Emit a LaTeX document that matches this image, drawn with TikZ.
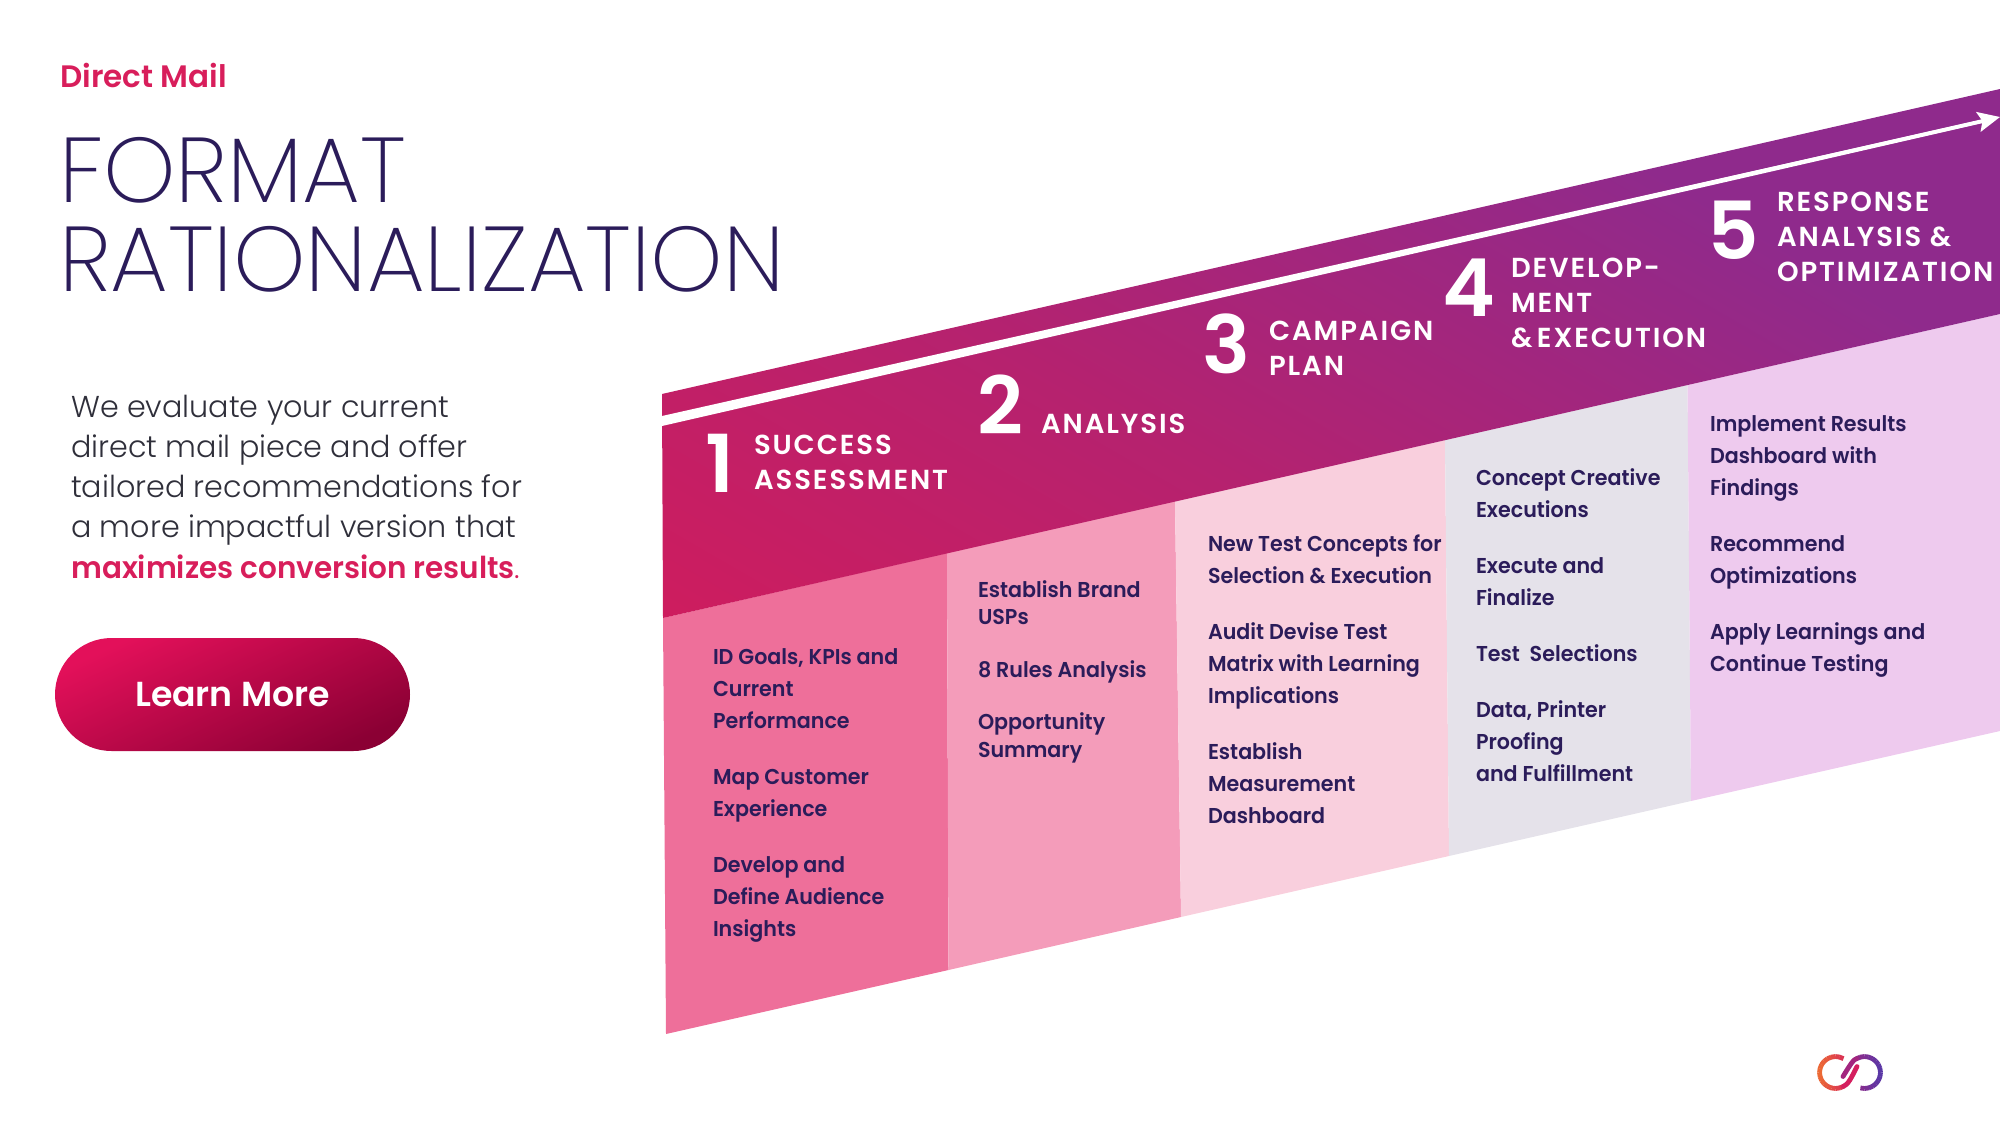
\documentclass[tikz,border=0pt]{standalone}
\usepackage{fontspec}
\usetikzlibrary{arrows.meta,shapes.misc}
\setmainfont{Poppins}
\newfontfamily\fTitle{Poppins ExtraLight}
\newfontfamily\fLight{Poppins Light}
\newfontfamily\fMed{Poppins SemiBold}[FakeStretch=0.96]
\newfontfamily\fSemi{Poppins SemiBold}
\newfontfamily\fSemiN{Poppins SemiBold}[FakeStretch=0.975]
\newfontfamily\fHead{Poppins SemiBold}[LetterSpace=7,FakeStretch=1.0]
\definecolor{navytext}{HTML}{2B1C5A}
\definecolor{crimson}{HTML}{D81E5B}
\definecolor{graytext}{HTML}{2F2F3A}
\definecolor{colA}{HTML}{EE6F9A}
\definecolor{colB}{HTML}{F49CBA}
\definecolor{colC}{HTML}{F9CFDD}
\definecolor{colD}{HTML}{E5E2EA}
\definecolor{colE}{HTML}{EECAEE}
\definecolor{bandA}{HTML}{D41B5A}
\definecolor{bandB}{HTML}{B5226F}
\definecolor{bandC}{HTML}{8F2A8C}
\definecolor{btnA}{HTML}{E3105A}
\definecolor{btnB}{HTML}{8B0034}
\definecolor{logoOr}{HTML}{EC6A35}
\definecolor{logoCr}{HTML}{D41F5F}
\definecolor{logoMg}{HTML}{A3267F}
\definecolor{logoIn}{HTML}{5A38A6}
\pgfdeclareverticalshading{bandshade}{100bp}{color(0bp)=(bandA); color(29bp)=(bandA); color(45bp)=(bandB); color(60bp)=(bandC); color(100bp)=(bandC)}
\pgfdeclareverticalshading{btnshade}{100bp}{color(0bp)=(btnB); color(25bp)=(btnB); color(75bp)=(btnA); color(100bp)=(btnA)}
\tikzset{
  coltext/.style={anchor=base west,inner sep=0,outer sep=0,align=left,text=navytext,font=\fMed\fontsize{21.5}{31.8}\selectfont},
  steplabel/.style={anchor=base west,inner sep=0,outer sep=0,align=left,text=white,font=\fHead\fontsize{27.5}{35}\selectfont},
  stepnum/.style={anchor=base,inner sep=0,outer sep=0,text=white,font=\fSemi\fontsize{80}{80}\selectfont},
  titleline/.style={anchor=base west,inner sep=0,outer sep=0,text=navytext,font=\fTitle\fontsize{92}{92}\selectfont},
  logoseg/.style={line width=4.8pt,line cap=round}
}
\begin{document}
\begin{tikzpicture}[x=1pt,y=-1pt]
\useasboundingbox (0,0) rectangle (2000,1125);
% columns
\fill[colA] (663,618) -- (947,553) -- (948.5,970) -- (666,1034) -- cycle;
\fill[colB] (947,553) -- (1175,501) -- (1181,917) -- (948.5,970) -- cycle;
\fill[colC] (1175,501) -- (1445,440) -- (1449,856) -- (1181,917) -- cycle;
\fill[colD] (1445,440) -- (1687.5,385) -- (1691,801) -- (1449,856) -- cycle;
\fill[colE] (1687.5,385) -- (2000,314) -- (2000,731) -- (1691,801) -- cycle;
% band
\begin{scope}
\clip (663,618) -- (662,394) -- (2000,89) -- (2000,314) -- cycle;
\shade[shading=bandshade,shading angle=-30] (530,-450) rectangle (2130,1150);
\end{scope}
% arrow (shaft tapers towards the head)
\coordinate (arrowstart) at (662,421);
\coordinate (arrowend) at (2000,117);
\fill[white] (662,416) -- (1985,119) -- (1985,122.5) -- (662,426) -- cycle;
\draw[white,line width=3.6pt,-{Stealth[length=22pt,width=20pt,inset=4pt]}] (arrowstart) -- (arrowend);
% left
\node[anchor=base west,inner sep=0,text=crimson,font=\fSemi\fontsize{31}{31}\selectfont] (kicker) at (60,87) {Direct Mail};
\node[titleline] (titleA) at (59,202) {FORMAT};
\node[titleline] (titleB) at (59,291) {RATIONALIZATION};
\node[anchor=base west,inner sep=0,align=left,text=graytext,font=\fLight\fontsize{30.2}{40.2}\selectfont] (intro) at (71,578) {We evaluate your current\\direct mail piece and offer\\tailored recommendations for\\a more impactful version that\\{\fSemiN\color{crimson}maximizes conversion results}{\color{crimson}.}};
\node[rounded rectangle,minimum width=355pt,minimum height=113pt,inner sep=0,shading=btnshade,shading angle=25,text=white,font=\fSemi\fontsize{34.7}{34.7}\selectfont] (btn) at (232.5,694.5) {Learn More};
% step headers
\node[stepnum] (n1) at (720,492) {1};
\node[steplabel] (s1) at (754,489) {SUCCESS\\ASSESSMENT};
\node[stepnum] (n2) at (1000,434) {2};
\node[steplabel] (s2) at (1041,433) {ANALYSIS};
\node[stepnum] (n3) at (1226,373) {3};
\node[steplabel] (s3) at (1269,375) {CAMPAIGN\\PLAN};
\node[stepnum] (n4) at (1469,316) {4};
\node[steplabel] (s4) at (1511,347) {DEVELOP-\\MENT\\\&\,EXECUTION};
\node[stepnum] (n5) at (1733,259) {5};
\node[steplabel] (s5) at (1777,281) {RESPONSE\\ANALYSIS \&\\OPTIMIZATION};
% column text
\node[coltext] (c1) at (713,936) {ID Goals, KPIs and\\Current\\Performance\\[24.3pt]Map Customer\\Experience\\[24.3pt]Develop and\\Define Audience\\Insights};
\node[coltext,font=\fMed\fontsize{21.5}{27.5}\selectfont] (c2) at (978,757) {Establish Brand\\USPs\\[25.5pt]8 Rules Analysis\\[24.5pt]Opportunity\\Summary};
\node[coltext] (c3) at (1208,823) {New Test Concepts for\\Selection \& Execution\\[24.3pt]Audit Devise Test\\Matrix with Learning\\Implications\\[24.3pt]Establish\\Measurement\\Dashboard};
\node[coltext] (c4) at (1476,781) {Concept Creative\\Executions\\[24.3pt]Execute and\\Finalize\\[24.3pt]Test\ \ Selections\\[24.3pt]Data, Printer\\Proofing\\and Fulfillment};
\node[coltext] (c5) at (1710,671) {Implement Results\\Dashboard with\\Findings\\[24.3pt]Recommend\\Optimizations\\[24.3pt]Apply Learnings and\\Continue Testing};
% logo
\begin{scope}[shift={(1850,1072.5)},x=1pt,y=1pt]
\foreach \a in {60,75,...,285}{
  \pgfmathsetmacro\t{50*(cos(\a+7.5)+1)}
  \draw[logoseg,line cap=butt,color=logoCr!\t!logoOr] (-14.5,0) ++(\a:16) arc[start angle=\a,end angle=\a+16,radius=16];
}
\foreach \a in {-105,-90,...,105}{
  \pgfmathsetmacro\t{50*(cos(\a+7.5)+1)}
  \draw[logoseg,line cap=butt,color=logoIn!\t!logoMg] (14.5,0) ++(\a:16) arc[start angle=\a,end angle=\a+16,radius=16];
}
\draw[logoseg,color=logoCr] (-14.5,0) ++(300:16) .. controls (-2,-12) and (1,-6) .. (7,6);
\draw[logoseg,color=logoMg] (14.5,0) ++(120:16) .. controls (4,14) and (-1,6) .. (-7,-4);
\end{scope}
\end{tikzpicture}
\end{document}
